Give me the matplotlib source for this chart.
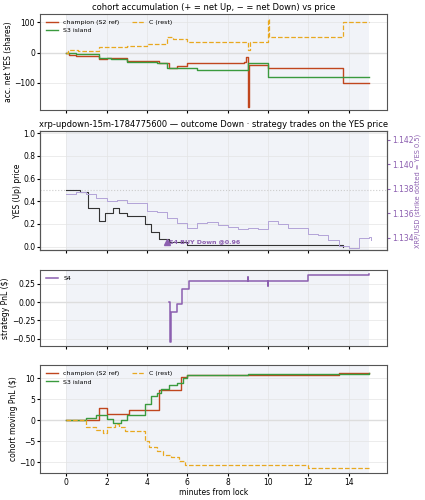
import matplotlib
matplotlib.use("Agg")
import matplotlib.pyplot as plt

# cohort accumulation
champ_t = [0, 0.15, 0.5, 1.6, 2.0, 3.0, 4.6, 5.1, 5.5, 6.0, 8.8, 8.9, 9.0, 9.05, 10.0, 13.7, 15.0]
champ_v = [0, -8, -12, -20, -18, -28, -35, -50, -45, -35, -30, -15, -180, -40, -50, -100, -100]
s3_t = [0, 0.5, 1.6, 2.2, 3.0, 4.5, 5.0, 6.5, 9.0, 10.0, 15.0]
s3_v = [0, -5, -18, -20, -30, -35, -53, -57, -35, -82, -82]
c_t = [0, 0.1, 0.6, 1.6, 2.5, 3.0, 4.0, 5.0, 5.3, 6.0, 9.0, 9.1, 10.0, 10.05, 13.7, 15.0]
c_v = [0, 10, 5, 20, 18, 22, 28, 50, 45, 35, 10, 35, 110, 50, 100, 100]

# YES price and XRP
yes_t = [0, 0.7, 1.1, 1.6, 1.9, 2.3, 2.6, 3.0, 3.9, 4.2, 4.6, 5.1, 6.0, 13.7]
yes_v = [0.5, 0.48, 0.34, 0.23, 0.30, 0.34, 0.30, 0.27, 0.20, 0.13, 0.07, 0.04, 0.01, 0.0]
xrp_t = [0, 0.5, 1, 1.5, 2, 2.5, 3, 3.5, 4, 4.5, 5, 5.5, 6, 6.5, 7, 7.5, 8, 8.5, 9, 9.5,
         10, 10.5, 11, 11.5, 12, 12.5, 13, 13.5, 14, 14.5, 15, 15.1]
xrp_v = [1.1376, 1.1377, 1.1376, 1.1372, 1.1370, 1.1371, 1.1368, 1.1368, 1.1362, 1.1361,
         1.1356, 1.1352, 1.1348, 1.1352, 1.1353, 1.1350, 1.1349, 1.1347, 1.1348, 1.1347,
         1.1354, 1.1351, 1.1348, 1.1348, 1.1343, 1.1342, 1.1338, 1.1333, 1.1332, 1.1340,
         1.1341, 1.1338]
trade_t, trade_p = 5.0, 0.04

# strategy PnL
s4_t = [5.1, 5.15, 5.2, 5.5, 5.75, 6.1, 9.0, 9.02, 10.0, 10.02, 12.0, 15.0]
s4_v = [0.0, -0.55, -0.14, -0.03, 0.18, 0.29, 0.34, 0.29, 0.22, 0.29, 0.37, 0.38]

# cohort moving PnL
pc_t = [0, 1.6, 2.0, 3.1, 4.6, 5.7, 6.0, 13.5, 15.0]
pc_v = [0, 3, 1.5, 2.5, 7.2, 10.3, 10.8, 11.2, 11.2]
ps_t = [0, 1.0, 1.5, 2.0, 2.3, 2.7, 3.0, 3.5, 3.9, 4.2, 4.5, 4.7, 5.1, 5.5, 5.8, 6.0, 9.0, 15.0]
ps_v = [0, 0.6, 1.2, 0.3, -0.6, 0, 1.2, 1.3, 4, 5.8, 6.5, 7.5, 8.5, 9, 10.2, 10.8, 11, 11.3]
pr_t = [0, 1.0, 1.5, 1.8, 2.0, 2.4, 2.6, 2.9, 3.9, 4.1, 4.5, 4.8, 5.2, 5.6, 5.9, 12.0, 15.0]
pr_v = [0, -1.7, -2.3, -3, -1.7, -1, -1.5, -2.5, -5, -6.5, -7.3, -8.2, -8.8, -9.7, -10.7, -11.3, -11.3]

RED, GREEN, YEL, PUR, LAV = "#c0461e", "#3a9a3e", "#e8a820", "#8c5fb0", "#b3a3d8"
plt.rcParams.update({"font.size": 5.5, "axes.edgecolor": "#555555",
                     "xtick.labelsize": 5.5, "ytick.labelsize": 5.5})

fig = plt.figure(figsize=(4.25, 5), dpi=100)
W, H = 425, 500
def ax_at(l, t, r, b):
    return fig.add_axes([l / W, 1 - b / H, (r - l) / W, (b - t) / H])

a1 = ax_at(40, 14, 387, 110)
a2 = ax_at(40, 131, 387, 250)
a3 = ax_at(40, 270, 387, 346)
a4 = ax_at(40, 365, 387, 473)

for a in (a1, a2, a3, a4):
    a.set_xlim(-1.3, 15.9)
    a.axvspan(0, 15, color="#eef0f7", alpha=0.8, lw=0, zorder=0)
    a.grid(True, color="#e4e4e4", lw=0.5)
    a.set_xticks([0, 2, 4, 6, 8, 10, 12, 14])
    a.tick_params(length=2, pad=1.5)
    if a is not a4:
        a.set_xticklabels([])

a1.axhline(0, color="#dddddd", lw=1)
a1.step(champ_t, champ_v, where="post", color=RED, lw=1.0, label="champion (S2 ref)")
a1.step(s3_t, s3_v, where="post", color=GREEN, lw=1.0, label="S3 island")
a1.step(c_t, c_v, where="post", color=YEL, lw=0.9, ls="--", label="C (rest)")
a1.set_ylim(-191, 128)
a1.set_yticks([-100, 0, 100])
a1.set_ylabel("acc. net YES (shares)", labelpad=1)
a1.set_title("cohort accumulation (+ = net Up, − = net Down) vs price", fontsize=6, pad=3)
a1.legend(loc="upper left", ncol=2, fontsize=4.5, frameon=False)

a2.axhline(0.5, color="#cccccc", lw=0.8, ls=":")
a2.step(yes_t, yes_v, where="post", color="#333333", lw=0.8)
a2.plot([trade_t], [trade_p], marker="^", color=PUR, ms=5, ls="none")
a2.text(trade_t + 0.1, trade_p, "S4 BUY Down @0.96", color=PUR, fontweight="bold", fontsize=4.5, va="center")
a2.set_ylim(-0.03, 1.02)
a2.set_ylabel("YES (Up) price", labelpad=1)
a2.set_title("xrp-updown-15m-1784775600 — outcome Down · strategy trades on the YES price", fontsize=6, pad=3)
a2r = a2.twinx()
a2r.step(xrp_t, xrp_v, where="post", color=LAV, lw=0.7)
a2r.set_ylim(1.1330, 1.1427)
a2r.set_yticks([1.134, 1.136, 1.138, 1.140, 1.142])
a2r.set_yticklabels(["1.134", "1.136", "1.138", "1.140", "1.142"])
a2r.tick_params(colors=PUR, length=2, pad=1.5, labelsize=5.5)
a2r.set_ylabel("XRP/USD (strike dotted = YES 0.5)", color=PUR, fontsize=4.8, labelpad=1)

a3.axhline(0, color="#dddddd", lw=1)
a3.step(s4_t, s4_v, where="post", color=PUR, lw=1.1, label="S4")
a3.set_ylim(-0.60, 0.44)
a3.set_yticks([-0.5, -0.25, 0, 0.25])
a3.set_yticklabels(["−0.50", "−0.25", "0.00", "0.25"])
a3.set_ylabel("strategy PnL ($)", labelpad=1)
a3.legend(loc="upper left", fontsize=4.5, frameon=False)

a4.axhline(0, color="#dddddd", lw=1)
a4.step(pc_t, pc_v, where="post", color=RED, lw=1.0, label="champion (S2 ref)")
a4.step(ps_t, ps_v, where="post", color=GREEN, lw=1.0, label="S3 island")
a4.step(pr_t, pr_v, where="post", color=YEL, lw=0.9, ls="--", label="C (rest)")
a4.set_ylim(-12.6, 13.2)
a4.set_yticks([-10, -5, 0, 5, 10])
a4.set_ylabel("cohort moving PnL ($)", labelpad=1)
a4.set_xlabel("minutes from lock", labelpad=1)
a4.legend(loc="upper left", ncol=2, fontsize=4.5, frameon=False)

fig.savefig("out.png", dpi=100)
